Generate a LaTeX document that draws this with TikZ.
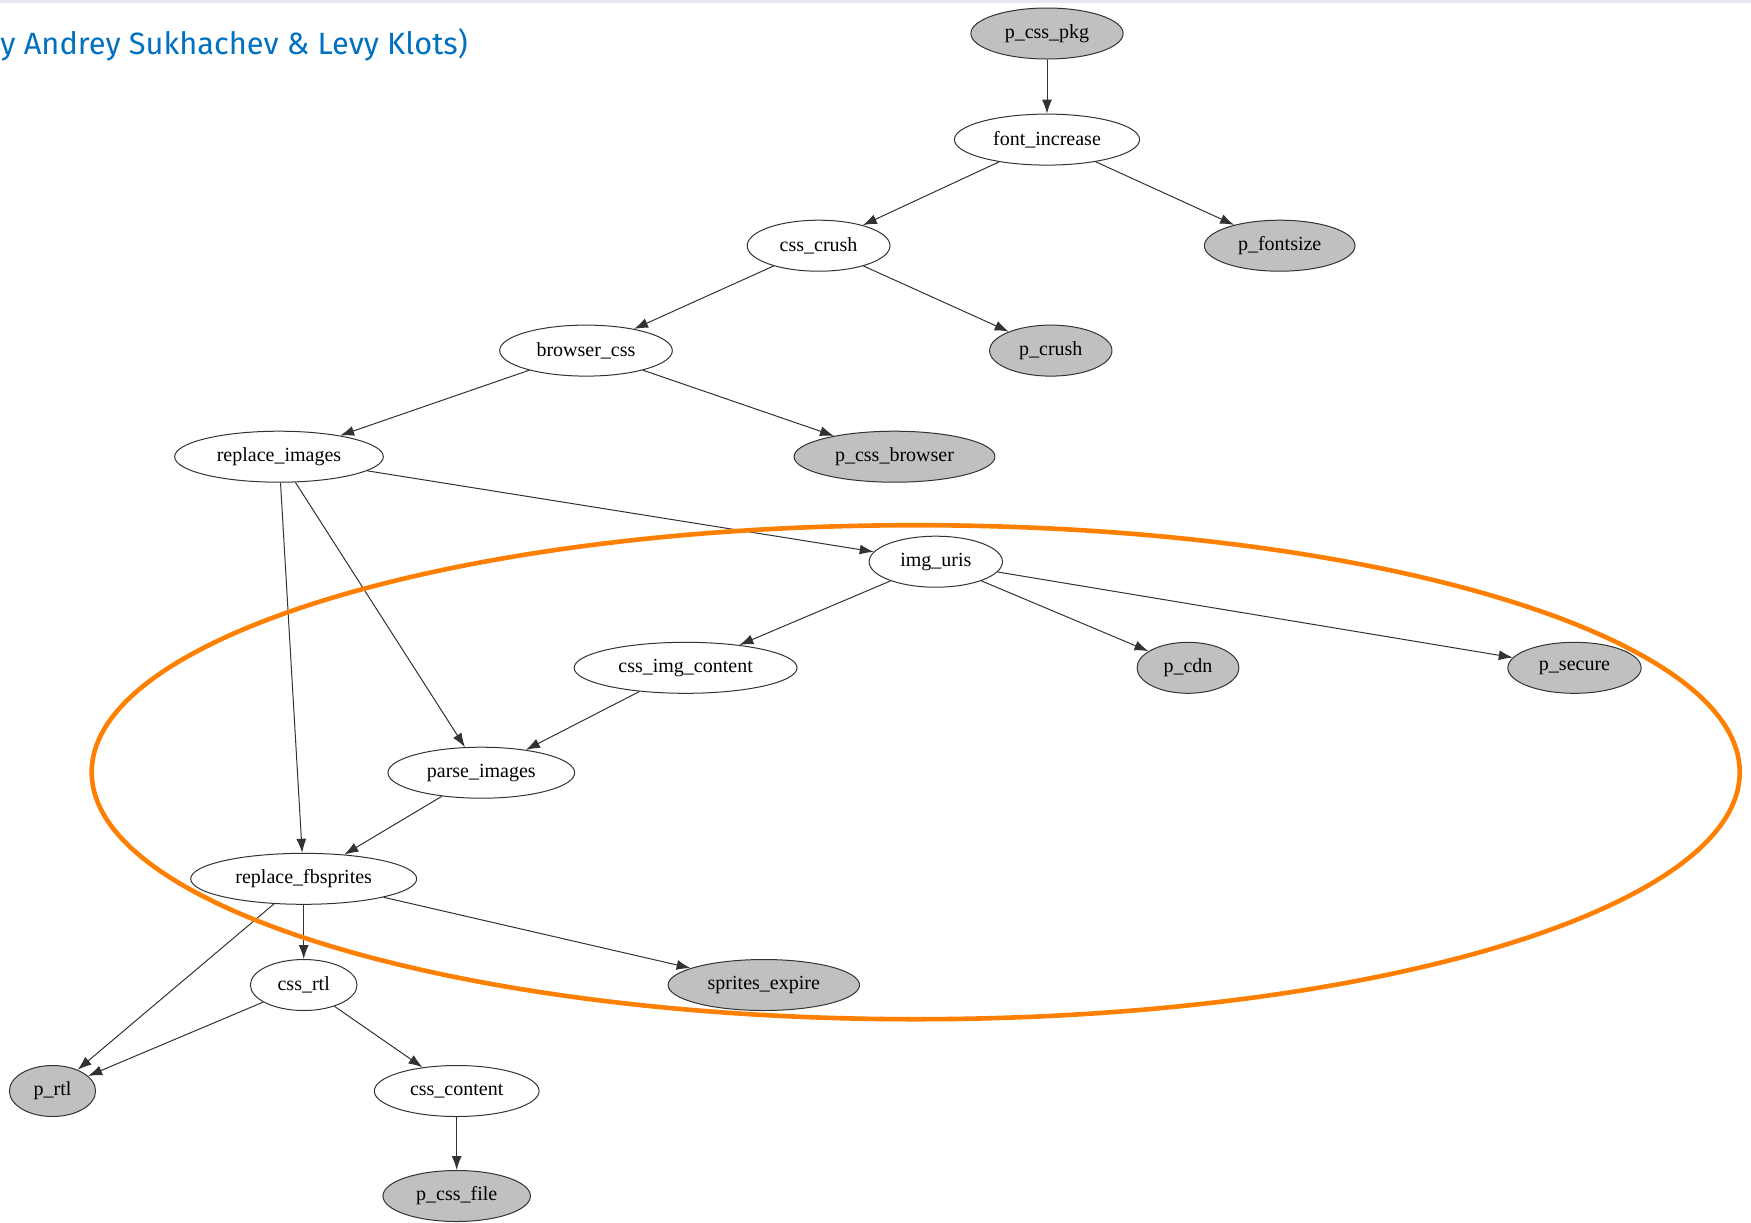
\documentclass[tikz,border=0pt]{standalone}
\usepackage{fontspec}
\setmainfont{Liberation Serif}
\newfontfamily\creditfont{Fira Sans}
\usetikzlibrary{positioning,shapes.geometric,arrows.meta}

\definecolor{pkggray}{RGB}{192,192,192}
\definecolor{edgegray}{RGB}{50,50,50}
\definecolor{ringorange}{RGB}{255,128,0}
\definecolor{creditblue}{RGB}{0,112,192}
\definecolor{bandblue}{RGB}{228,231,240}

\begin{document}
\begin{tikzpicture}[
        x=0.5pt, y=-0.5pt,
        every node/.style={ellipse, draw=black!80, line width=0.5pt, inner xsep=5.8pt, inner ysep=1pt,
                           minimum height=25.5pt, minimum width=42pt, font=\fontsize{10}{12}\selectfont},
        pkg/.style={fill=pkggray},
        edge/.style={->, draw=edgegray, line width=0.5pt},
        >={Latex[length=7pt,width=5pt]}
      ]
      \useasboundingbox (0,0) rectangle (1751,1222);
      \fill[bandblue] (0,0) rectangle (1751,3);
      \node[draw=none, shape=rectangle, anchor=west, inner sep=0pt, text=creditblue,
            font=\creditfont\fontsize{15.4}{18}\selectfont] (credit) at (0,44.7)
        {y Andrey Sukhachev \& Levy Klots)};
      % nodes, row by row
      \node[pkg] (pkgcss)      at (1047,33.5)  {p\_css\_pkg};
      \node      (fontinc)     at (1047,139.6) {font\_increase};
      \node      (crush)       at (818.6,245.7) {css\_crush};
      \node[pkg] (fontsize)    at (1279.7,245.7) {p\_fontsize};
      \node      (browser)     at (586,350.6)  {browser\_css};
      \node[pkg] (pcrush)      at (1050.8,350.6) {p\_crush};
      \node      (replimg)     at (279,456.7)  {replace\_images};
      \node[pkg] (pbrowser)    at (894.5,456.7) {p\_css\_browser};
      \node      (imguris)     at (935.8,561.7) {img\_uris};
      \node      (imgcontent)  at (685.6,667.8) {css\_img\_content};
      \node[pkg] (pcdn)        at (1188,667.8) {p\_cdn};
      \node[pkg] (psecure)     at (1574.5,667.8) {p\_secure};
      \node      (parseimg)    at (481.3,772.7) {parse\_images};
      \node      (fbsprites)   at (303.7,878.8) {replace\_fbsprites};
      \node      (rtl)         at (303.7,985)  {css\_rtl};
      \node[pkg] (expire)      at (763.8,985)  {sprites\_expire};
      \node[pkg] (prtl)        at (52.5,1091)  {p\_rtl};
      \node      (content)     at (456.7,1091) {css\_content};
      \node[pkg] (pcssfile)    at (456.7,1196) {p\_css\_file};
      % arrows
      \draw[edge] (pkgcss) -- (fontinc);
      \draw[edge] (fontinc) -- (crush);
      \draw[edge] (fontinc) -- (fontsize);
      \draw[edge] (crush) -- (browser);
      \draw[edge] (crush) -- (pcrush);
      \draw[edge] (browser) -- (replimg);
      \draw[edge] (browser) -- (pbrowser);
      \draw[edge] (replimg) -- (imguris);
      \draw[edge] (replimg) -- (parseimg);
      \draw[edge] (replimg) -- (fbsprites);
      \draw[edge] (imguris) -- (imgcontent);
      \draw[edge] (imguris) -- (pcdn);
      \draw[edge] (imguris) -- (psecure);
      \draw[edge] (imgcontent) -- (parseimg);
      \draw[edge] (parseimg) -- (fbsprites);
      \draw[edge] (fbsprites) -- (rtl);
      \draw[edge] (fbsprites) -- (expire);
      \draw[edge] (fbsprites) -- (prtl);
      \draw[edge] (rtl) -- (prtl);
      \draw[edge] (rtl) -- (content);
      \draw[edge] (content) -- (pcssfile);
      % highlight ring
      \draw[ringorange, line width=2.3pt] (915.7,772.2) ellipse [x radius=412pt, y radius=123.5pt];
    \end{tikzpicture}
\end{document}
